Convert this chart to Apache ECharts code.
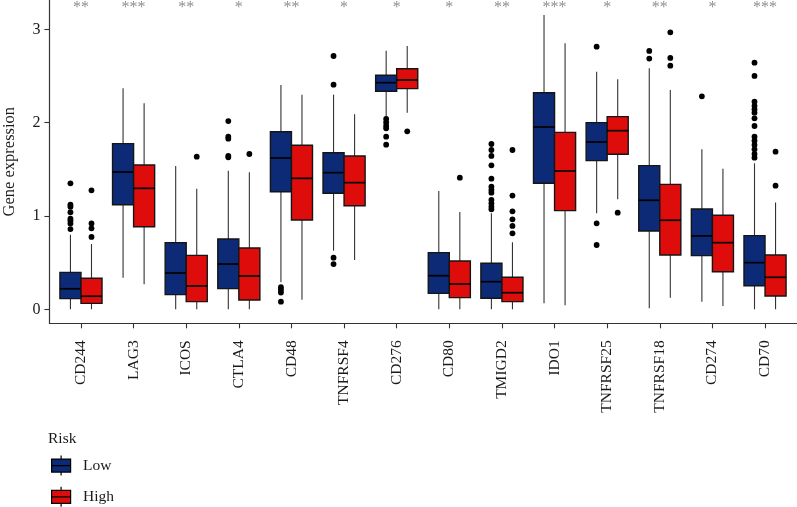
<!DOCTYPE html>
<html>
<head>
<meta charset="utf-8">
<script src="https://cdn.jsdelivr.net/npm/echarts@6/dist/echarts.min.js"></script>
<style>
html,body{margin:0;padding:0;background:#fff;}
#chart{width:797px;height:507px;}
</style>
</head>
<body>
<div id="chart"></div>
<script>
// ---- data ----
const categories = ['CD244','LAG3','ICOS','CTLA4','CD48','TNFRSF4','CD276','CD80','TMIGD2','IDO1','TNFRSF25','TNFRSF18','CD274','CD70'];
// [min whisker, Q1, median, Q3, max whisker]
const lowStats = [
  [0, 0.114, 0.22, 0.396, 0.80],
  [0.339, 1.121, 1.471, 1.775, 2.368],
  [0, 0.157, 0.389, 0.714, 1.535],
  [0, 0.221, 0.485, 0.753, 1.485],
  [0.29, 1.26, 1.621, 1.903, 2.403],
  [0.628, 1.243, 1.464, 1.678, 2.30],
  [2.064, 2.336, 2.428, 2.507, 2.771],
  [0, 0.171, 0.36, 0.607, 1.268],
  [0, 0.118, 0.296, 0.493, 1.029],
  [0.064, 1.35, 1.953, 2.321, 3.153],
  [1.029, 1.593, 1.793, 2.0, 2.546],
  [0.01, 0.839, 1.168, 1.539, 2.582],
  [0.082, 0.575, 0.786, 1.075, 1.714],
  [0, 0.253, 0.5, 0.789, 1.564]
];
const highStats = [
  [0, 0.064, 0.14, 0.332, 0.70],
  [0.268, 0.885, 1.296, 1.546, 2.207],
  [0, 0.082, 0.25, 0.578, 1.292],
  [0, 0.1, 0.357, 0.657, 1.468],
  [0.103, 0.957, 1.403, 1.757, 2.30],
  [0.528, 1.11, 1.357, 1.643, 2.089],
  [2.107, 2.364, 2.457, 2.578, 2.821],
  [0, 0.125, 0.271, 0.518, 1.043],
  [0, 0.082, 0.178, 0.343, 0.718],
  [0.043, 1.057, 1.482, 1.896, 2.85],
  [1.179, 1.661, 1.914, 2.064, 2.464],
  [0.125, 0.582, 0.954, 1.339, 2.35],
  [0.036, 0.403, 0.714, 1.007, 1.507],
  [0, 0.143, 0.343, 0.582, 1.143]
];
// [category index, value]
const lowOutliers = [
  [0,1.35],[0,1.12],[0,1.10],[0,1.04],[0,0.97],[0,0.95],[0,0.92],[0,0.86],
  [3,2.017],[3,1.85],[3,1.828],[3,1.643],[3,1.628],
  [4,0.236],[4,0.21],[4,0.18],[4,0.082],
  [5,2.714],[5,2.407],[5,0.553],[5,0.485],
  [6,2.039],[6,2.003],[6,1.967],[6,1.94],[6,1.85],[6,1.764],
  [8,1.771],[8,1.707],[8,1.643],[8,1.543],[8,1.4],[8,1.314],[8,1.278],[8,1.25],[8,1.171],[8,1.136],[8,1.1],[8,1.071],
  [10,2.814],[10,0.921],[10,0.689],
  [11,2.768],[11,2.686],
  [12,2.282],
  [13,2.643],[13,2.5],[13,2.225],[13,2.178],[13,2.143],[13,2.107],[13,2.046],[13,1.964],[13,1.85],[13,1.807],[13,1.761],[13,1.714],[13,1.664],[13,1.625]
];
const highOutliers = [
  [0,1.275],[0,0.92],[0,0.868],[0,0.775],
  [2,1.635],
  [3,1.664],
  [6,1.907],
  [7,1.41],
  [8,1.707],[8,1.218],[8,1.05],[8,0.964],[8,0.893],[8,0.814],
  [10,1.035],
  [11,2.968],[11,2.693],[11,2.61],
  [13,1.689],[13,1.325]
];
const stars = ['**','***','**','*','**','*','*','*','**','***','*','**','*','***'];
const yTicks = [0, 1, 2, 3];
const groupNames = ['Low', 'High'];

// ---- styling ----
const FONT = 'Liberation Serif';
const LOW_COLOR = '#0c2a76';
const HIGH_COLOR = '#df0c0c';
const BOX_OFFSET = 0.2;   // fraction of a category unit
const BOX_HALF = 0.2;

function boxRenderer(offset) {
  return function (params, api) {
    const i = api.value(0);
    const unit = api.size([1, 0])[0];
    const cx = api.coord([i, 0])[0] + offset * unit;
    const half = BOX_HALF * unit;
    const pMin = api.coord([i, api.value(1)])[1];
    const pQ1 = api.coord([i, api.value(2)])[1];
    const pMed = api.coord([i, api.value(3)])[1];
    const pQ3 = api.coord([i, api.value(4)])[1];
    const pMax = api.coord([i, api.value(5)])[1];
    return {
      type: 'group',
      children: [
        {type: 'line', shape: {x1: cx, y1: pMax, x2: cx, y2: pQ3}, style: {stroke: '#333', lineWidth: 1.1}},
        {type: 'line', shape: {x1: cx, y1: pQ1, x2: cx, y2: pMin}, style: {stroke: '#333', lineWidth: 1.1}},
        {type: 'rect', shape: {x: cx - half, y: pQ3, width: 2 * half, height: pQ1 - pQ3},
          style: {fill: api.visual('color'), stroke: '#151515', lineWidth: 1.4}},
        {type: 'line', shape: {x1: cx - half, y1: pMed, x2: cx + half, y2: pMed}, style: {stroke: '#000', lineWidth: 1.7}}
      ]
    };
  };
}
function outlierRenderer(offset) {
  return function (params, api) {
    const i = api.value(0);
    const unit = api.size([1, 0])[0];
    const p = api.coord([i, api.value(1)]);
    return {type: 'circle', shape: {cx: p[0] + offset * unit, cy: p[1], r: 2.9}, style: {fill: '#000'}};
  };
}

const legendIcon = 'path://M9.5,0 L9.5,3.5 M0,3.5 L19,3.5 L19,16.5 L0,16.5 Z M0,10 L19,10 M9.5,16.5 L9.5,20';
const catIdx = categories.map((c, i) => i);

const option = {
  animation: false,
  backgroundColor: '#fff',
  grid: {left: 49.4, right: 0.4, top: 0, bottom: 183.7, containLabel: false, outerBoundsMode: 'none'},
  xAxis: {
    type: 'value', min: -0.6, max: 13.6,
    splitLine: {show: false},
    axisLine: {show: true, onZero: false, lineStyle: {color: '#333', width: 1.2}},
    axisTick: {show: true, customValues: catIdx, length: 5, lineStyle: {color: '#333', width: 1.1}},
    axisLabel: {
      customValues: catIdx, rotate: 90, margin: 17,
      fontFamily: FONT, fontSize: 15.5, color: '#1a1a1a',
      formatter: v => categories[Math.round(v)]
    }
  },
  yAxis: {
    type: 'value', min: -0.15, max: 3.314,
    name: 'Gene expression', nameLocation: 'middle', nameGap: 31,
    nameTextStyle: {fontFamily: FONT, fontSize: 16.5, color: '#1a1a1a'},
    splitLine: {show: false},
    axisLine: {show: true, onZero: false, lineStyle: {color: '#333', width: 1.2}},
    axisTick: {show: true, customValues: yTicks, length: 5, lineStyle: {color: '#333', width: 1.1}},
    axisLabel: {customValues: yTicks, margin: 9, fontFamily: FONT, fontSize: 16, color: '#1a1a1a'}
  },
  legend: {
    orient: 'vertical', left: 51, top: 455, width: 120, height: 80, padding: 0,
    itemWidth: 34, itemHeight: 20, itemGap: 10,
    symbolKeepAspect: true,
    itemStyle: {borderColor: '#000', borderWidth: 1.2},
    textStyle: {fontFamily: FONT, fontSize: 15.5, color: '#1a1a1a'},
    data: groupNames.map(n => ({name: n, icon: legendIcon}))
  },
  graphic: [
    {type: 'text', left: 48, top: 431, style: {text: 'Risk', font: '15.5px "Liberation Serif"', fill: '#1a1a1a'}}
  ],
  series: [
    {name: 'Low', type: 'custom', itemStyle: {color: LOW_COLOR}, encode: {x: 0, y: [1, 2, 3, 4, 5]},
      renderItem: boxRenderer(-BOX_OFFSET), data: lowStats.map((s, i) => [i].concat(s)), silent: true},
    {name: 'High', type: 'custom', itemStyle: {color: HIGH_COLOR}, encode: {x: 0, y: [1, 2, 3, 4, 5]},
      renderItem: boxRenderer(BOX_OFFSET), data: highStats.map((s, i) => [i].concat(s)), silent: true},
    {name: 'Low outliers', type: 'custom', encode: {x: 0, y: 1}, renderItem: outlierRenderer(-BOX_OFFSET), data: lowOutliers, silent: true, z: 5},
    {name: 'High outliers', type: 'custom', encode: {x: 0, y: 1}, renderItem: outlierRenderer(BOX_OFFSET), data: highOutliers, silent: true, z: 5},
    {name: 'signif', type: 'custom', encode: {x: 0, y: 1}, silent: true,
      data: categories.map((c, i) => [i, 0]),
      renderItem: function (params, api) {
        const x = api.coord([api.value(0), 0])[0];
        return {type: 'text', style: {text: stars[params.dataIndex], x: x, y: params.coordSys.y + 8,
          textAlign: 'center', textVerticalAlign: 'middle', font: '16px "Liberation Serif"', fill: '#8f8f8f'}};
      }}
  ]
};

const chart = echarts.init(document.getElementById('chart'), null, {renderer: 'canvas'});
chart.setOption(option);
</script>
</body>
</html>
